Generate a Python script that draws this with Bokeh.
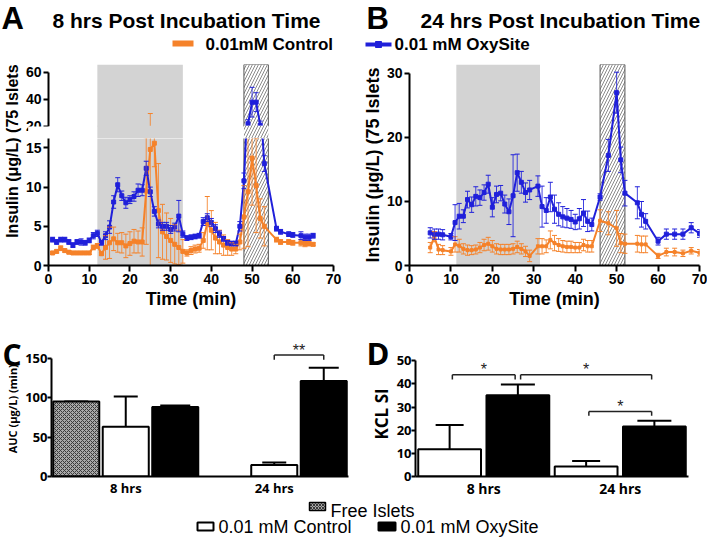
import math
from bokeh.plotting import figure
from bokeh.models import (Range1d, FactorRange, Whisker, TeeHead, ColumnDataSource, FixedTicker)
from bokeh.transform import dodge
from bokeh.layouts import column, row
from bokeh.embed import file_html
from bokeh.resources import INLINE
from bokeh.core.properties import value

# ---------------- data ----------------
x_ticks = [0, 10, 20, 30, 40, 50, 60, 70]
y_ticks_a_low = [0, 5, 10, 15]
y_ticks_a_up = [20, 40, 60]
y_ticks_b = [0, 10, 20, 30]
a_break = 20  # start of the upper segment of panel A's broken axis

# Panel A: 8 hrs post incubation
time_a = [1, 2, 3, 4, 5, 6, 7, 8, 9, 10, 11, 12, 13, 14, 15, 16, 17, 18, 19, 20,
          21, 22, 23, 24, 25, 26, 27, 28, 29, 30, 31, 32, 33, 34, 35, 36, 37, 38, 39, 40,
          41, 42, 43, 44, 45, 46, 47, 48, 49, 50, 51, 52, 53, 56, 57, 59, 60, 62, 63, 64, 65]
oxy_a = [3.3, 3.0, 3.3, 3.3, 3.0, 2.6, 3.0, 3.0, 2.9, 3.2,
         3.8, 4.1, 2.9, 3.8, 4.9, 8.1, 10.3, 8.9, 8.0, 8.4,
         8.8, 9.6, 9.6, 12.4, 9.4, 6.9, 5.3, 5.0, 5.0, 4.6,
         4.9, 6.3, 4.0, 3.5, 3.6, 3.7, 3.8, 5.6, 6.1, 5.5,
         4.7, 4.0, 3.4, 2.9, 2.8, 2.8, 5.0, 10.8, 22.0, 38.0,
         38.0, 21.0, 13.0,
         4.7, 4.3, 4.0, 3.9, 3.8, 3.6, 3.6, 3.8]
oxy_a_err = [0.3, 0.3, 0.3, 0.3, 0.3, 0.3, 0.3, 0.4, 0.3, 0.3,
             0.4, 0.4, 0.3, 0.5, 0.8, 0.8, 0.9, 0.6, 0.7, 0.5,
             0.6, 0.8, 0.7, 0.9, 0.6, 0.6, 0.5, 0.5, 0.5, 0.5,
             0.5, 2.0, 0.4, 0.3, 0.3, 0.3, 0.3, 0.5, 0.5, 0.5,
             0.5, 0.4, 0.3, 0.3, 0.3, 0.3, 0.6, 1.0, 3.0, 11.0,
             7.0, 3.0, 1.0,
             0.3, 0.3, 0.3, 0.3, 0.5, 0.4, 0.4, 0.3]
ctrl_a = [1.6, 1.8, 2.2, 1.9, 1.7, 1.6, 1.6, 1.6, 1.6, 1.6,
          2.3, 2.5, 1.5, 2.3, 2.9, 3.4, 2.9, 2.9, 2.5, 2.8,
          3.1, 3.0, 3.0, 9.5, 14.8, 15.6, 7.0, 4.3, 3.7, 3.2,
          2.7, 2.3, 1.8, 1.6, 1.9, 2.1, 2.2, 3.2, 5.4, 4.5,
          3.5, 3.0, 2.6, 2.3, 2.1, 2.1, 3.0, 6.2, 9.4, 13.7,
          10.2, 6.0, 5.0,
          3.3, 3.0, 3.0, 2.9, 2.9, 2.8, 2.8, 2.7]
ctrl_a_err = [0.2, 0.2, 0.3, 0.2, 0.2, 0.2, 0.2, 0.2, 0.2, 0.2,
              0.3, 0.3, 0.2, 1.5, 2.0, 1.5, 1.2, 1.3, 1.5, 1.5,
              1.5, 1.4, 1.8, 6.8, 14.8, 3.0, 6.0, 3.5, 3.0, 2.8,
              2.5, 2.2, 1.5, 0.4, 0.5, 0.5, 0.5, 1.0, 3.4, 2.5,
              2.0, 1.5, 1.3, 1.0, 0.8, 0.6, 1.0, 4.0, 7.0, 6.0,
              6.0, 2.5, 2.5,
              0.3, 0.3, 0.3, 0.3, 0.4, 0.4, 0.3, 0.2]
glucose_a = [12, 33]
kcl_a = [48, 54]

# Panel B: 24 hrs post incubation
time_b = [5, 6, 7, 8, 10, 11, 12, 13, 14, 15, 16, 17, 18, 19, 20, 21, 22, 23, 24, 25,
          26, 27, 28, 29, 31, 32, 33, 34, 35, 36, 37, 38, 39, 40, 41, 42, 43, 44,
          46, 48, 50, 51, 52, 55, 56, 57, 60, 62, 64, 66, 68, 70]
oxy_b = [5.1, 4.9, 4.9, 4.8, 4.5, 6.7, 7.7, 7.7, 10.3, 9.5, 10.8, 10.6, 11.4, 12.7, 9.1, 11.1,
         11.3, 9.6, 8.4, 10.9, 14.5, 13.0, 11.4, 11.8, 12.4, 9.2, 8.6, 10.7, 8.8, 8.0, 7.6,
         7.4, 7.2, 6.8, 7.3, 8.2, 6.9, 6.4, 10.7, 17.2, 27.0, 16.5, 11.3, 9.8, 8.0, 6.9,
         3.8, 4.9, 4.9, 4.9, 5.9, 5.0]
oxy_b_err = [0.8, 0.8, 0.8, 0.8, 0.5, 2.8, 2.0, 1.0, 1.3, 1.2, 1.5, 1.2, 1.2, 1.4, 1.5, 1.3,
             1.2, 1.4, 2.0, 6.4, 2.9, 1.7, 1.5, 1.5, 1.6, 3.2, 2.0, 2.3, 2.2, 1.8, 1.6,
             1.5, 1.4, 1.2, 1.6, 2.1, 1.6, 1.0, 0.5, 2.5, 3.2, 2.0, 2.0, 2.5, 2.0, 1.2,
             0.6, 0.8, 0.8, 0.8, 0.8, 0.6]
ctrl_b = [2.8, 4.5, 2.5, 2.4, 2.2, 3.3, 3.1, 2.6, 2.4, 2.4, 2.5, 2.8, 3.2, 3.4, 3.0, 2.6,
          2.5, 2.5, 2.5, 2.6, 2.9, 2.6, 2.2, 1.5, 3.0, 3.0, 3.0, 4.0, 3.5, 3.2, 3.0,
          2.9, 2.9, 2.8, 2.8, 3.2, 3.0, 3.0, 7.0, 6.6, 5.8, 3.5, 3.4, 3.4, 3.3, 3.3,
          1.5, 2.1, 2.1, 1.9, 2.3, 2.0]
ctrl_b_err = [0.8, 0.8, 0.8, 0.7, 0.6, 1.2, 1.0, 0.8, 0.8, 0.7, 0.7, 0.8, 0.9, 1.0, 0.9, 0.8,
              0.8, 0.8, 0.8, 0.8, 0.9, 0.8, 0.8, 0.9, 1.2, 1.2, 1.0, 1.4, 1.2, 1.0, 0.9,
              0.9, 0.9, 0.8, 0.8, 0.9, 0.9, 0.9, 1.7, 1.8, 2.8, 1.5, 1.5, 1.3, 1.3, 1.3,
              0.4, 0.6, 0.6, 0.5, 0.5, 0.5]
glucose_b = [11.3, 31.5]
kcl_b = [46, 52]

# Panel C: AUC
groups = ["8 hrs", "24 hrs"]
auc_ticks = [0, 50, 100, 150]
auc_free = [95, None]
auc_free_err = [0, None]
auc_ctrl = [63, 14.5]
auc_ctrl_err = [38.5, 3.3]
auc_oxy = [88, 121]
auc_oxy_err = [2, 17]
auc_sig_from = [("24 hrs", "0.01 mM Control")]
auc_sig_to = [("24 hrs", "0.01 mM OxySite")]
auc_sig_y = [154]
auc_sig_tip = [148]
auc_sig_label = ["**"]

# Panel D: KCL stimulation index
si_ticks = [0, 10, 20, 30, 40, 50]
si_ctrl = [11.8, 4.3]
si_ctrl_err = [10.5, 2.4]
si_oxy = [35.1, 21.6]
si_oxy_err = [4.7, 2.5]
si_sig_from = [("8 hrs", "0.01 mM Control"), ("8 hrs", "0.01 mM OxySite"),
               ("24 hrs", "0.01 mM Control")]
si_sig_to = [("8 hrs", "0.01 mM OxySite"), ("24 hrs", "0.01 mM OxySite"),
             ("24 hrs", "0.01 mM OxySite")]
si_sig_y = [44.0, 44.0, 28.1]
si_sig_tip = [41.9, 41.9, 26.3]
si_sig_label = ["*", "*", "*"]

# ---------------- styles ----------------
ORANGE = "#F5822A"
BLUE = "#2020DA"
GRAY = "#D3D3D3"
F1 = "Liberation Sans"
F2 = "Open Sans"
SERIES = ["Free Islets", "0.01 mM Control", "0.01 mM OxySite"]
C_OFF = {SERIES[0]: -1 / 3, SERIES[1]: 0.0, SERIES[2]: 1 / 3}
D_OFF = {SERIES[1]: -0.25, SERIES[2]: 0.25}
HATCH = dict(hatch_pattern="/", hatch_color="#8a8a8a", hatch_scale=6, hatch_weight=1)


def blank(x0, x1, y0, y1):
    f = figure(width=x1 - x0, height=y1 - y0, x_range=Range1d(x0, x1), y_range=Range1d(y1, y0),
               output_backend="svg", toolbar_location=None, min_border=0, title=None,
               x_axis_location=None, y_axis_location=None, outline_line_color=None)
    f.grid.visible = False
    return f


def put(f, x, y, txt, size, bold=True, font=F1, align="left", angle=0.0, color="black"):
    f.text(x=[x], y=[y], text=[txt], angle=angle, text_color=color,
           text_font=value(font), text_font_size=value(f"{size}px"),
           text_font_style=value("bold" if bold else "normal"),
           text_align=value(align), text_baseline=value("middle"))


def style_axis(ax, size="14px", font=F1, tick_out=5):
    ax.axis_line_width = 2
    ax.axis_line_color = "black"
    ax.major_tick_line_width = 2
    ax.major_tick_line_color = "black"
    ax.major_tick_out = tick_out
    ax.major_tick_in = 0
    ax.minor_tick_line_color = None
    ax.major_label_text_font = font
    ax.major_label_text_font_size = size
    ax.major_label_text_font_style = "bold"
    ax.major_label_text_color = "black"
    ax.major_label_standoff = 2
    ax.axis_label_text_font = font
    ax.axis_label_text_font_style = "bold"
    ax.axis_label_text_color = "black"


def shade(f, glc, kcl, bottom, top, level="underlay", border=True):
    f.quad(left=[glc[0]], right=[glc[1]], bottom=[bottom], top=[top], fill_color=GRAY,
           line_alpha=0, level=level)
    f.quad(left=[kcl[0]], right=[kcl[1]], bottom=[bottom], top=[top], fill_color="white",
           line_color="#555555", line_width=1, line_alpha=1 if border else 0, level=level,
           **HATCH)


def series(f, t, y, err, color, msize=4, cap=5):
    src = ColumnDataSource(dict(t=t, y=y, lo=[a - b for a, b in zip(y, err)],
                                hi=[a + b for a, b in zip(y, err)]))
    f.add_layout(Whisker(source=src, base="t", lower="lo", upper="hi", line_color=color,
                         line_width=1, line_alpha=0.85, level="glyph",
                         upper_head=TeeHead(size=cap, line_color=color, line_width=1),
                         lower_head=TeeHead(size=cap, line_color=color, line_width=1)))
    f.line("t", "y", source=src, line_color=color, line_width=2)
    f.scatter("t", "y", source=src, marker="square", size=msize, color=color)


def ts_fig(w, h, xr, yr, mb, xaxis=True):
    f = figure(width=w, height=h, x_range=xr, y_range=yr, output_backend="svg",
               toolbar_location=None, outline_line_color=None, title=None,
               x_axis_location="below" if xaxis else None,
               min_border_left=mb[0], min_border_right=mb[1], min_border_top=mb[2],
               min_border_bottom=mb[3])
    f.grid.visible = False
    return f


# ---------------- header ----------------
hdr = blank(0, 707, 0, 58)
put(hdr, 1, 17.5, "A", 31)
put(hdr, 52, 20, "8 hrs Post Incubation Time", 21)
hdr.quad(left=[172], right=[193], top=[40], bottom=[46], fill_color=ORANGE, line_alpha=0)
put(hdr, 205, 43.5, "0.01mM Control", 17)
hdr.segment(x0=[365], y0=[44], x1=[391], y1=[44], line_color=BLUE, line_width=4)
hdr.scatter(x=[378], y=[44], marker="square", size=6, color=BLUE)
put(hdr, 394, 43.5, "0.01 mM OxySite", 17)
put(hdr, 366, 17.5, "B", 31)
put(hdr, 420, 20, "24 hrs Post Incubation Time", 21)

# ---------------- panel A (broken axis) ----------------
labA = blank(0, 22, 58, 312)
put(labA, 12, 167.5, "Insulin (\u03bcg/L) (75 Islets", 16, align="center", angle=math.pi / 2)

xr_a = Range1d(0, 70)
yr_up = Range1d(11.1, 65.9)
yr_lo = Range1d(0, 16.2)
fa_up = ts_fig(333, 80, xr_a, yr_up, (24, 22, 6, 0), xaxis=False)
fa_lo = ts_fig(333, 174, xr_a, yr_lo, (24, 22, 0, 47))

shade(fa_up, glucose_a, kcl_a, yr_up.start - 10, yr_up.end)
shade(fa_lo, glucose_a, kcl_a, yr_lo.start - 10, yr_lo.end + 10)
for f in (fa_up, fa_lo):
    series(f, time_a, ctrl_a, ctrl_a_err, ORANGE, msize=4)
    series(f, time_a, oxy_a, oxy_a_err, BLUE, msize=4)
    style_axis(f.yaxis[0])

# blank out the axis-break gap at the bottom of the upper segment
fa_up.quad(left=[xr_a.start - 5], right=[xr_a.end + 5], bottom=[yr_up.start - 10],
           top=[a_break], fill_color="white", line_alpha=0, level="annotation")
shade(fa_up, glucose_a, kcl_a, yr_up.start - 10, a_break + 0.6, level="annotation", border=False)

fa_up.yaxis[0].ticker = FixedTicker(ticks=y_ticks_a_up, minor_ticks=[])
fa_up.yaxis[0].bounds = (a_break, 60)
fa_lo.yaxis[0].ticker = FixedTicker(ticks=y_ticks_a_low, minor_ticks=[])
fa_lo.xaxis[0].ticker = FixedTicker(ticks=x_ticks, minor_ticks=[])
style_axis(fa_lo.xaxis[0], tick_out=6)
fa_lo.xaxis[0].axis_label = "Time (min)"
fa_lo.xaxis[0].axis_label_text_font_size = "18px"
fa_lo.xaxis[0].axis_label_standoff = 2

colA = column(fa_up, fa_lo)

# ---------------- panel B ----------------
yr_b = Range1d(0, 31.4)
fb = ts_fig(352, 254, Range1d(0, 70), yr_b, (54, 8, 6, 47))
shade(fb, glucose_b, kcl_b, yr_b.start - 10, yr_b.end)
series(fb, time_b, ctrl_b, ctrl_b_err, ORANGE, msize=3)
series(fb, time_b, oxy_b, oxy_b_err, BLUE, msize=4)
style_axis(fb.yaxis[0])
style_axis(fb.xaxis[0], tick_out=6)
fb.yaxis[0].ticker = FixedTicker(ticks=y_ticks_b, minor_ticks=[])
fb.yaxis[0].bounds = (0, 30)
fb.yaxis[0].axis_label = "Insulin (\u03bcg/L) (75 Islets"
fb.yaxis[0].axis_label_text_font_size = "18px"
fb.yaxis[0].axis_label_standoff = 1
fb.xaxis[0].ticker = FixedTicker(ticks=x_ticks, minor_ticks=[])
fb.xaxis[0].axis_label = "Time (min)"
fb.xaxis[0].axis_label_text_font_size = "18px"
fb.xaxis[0].axis_label_standoff = 2

top_row = row(labA, colA, fb)


# ---------------- bar panels ----------------
def bar_fig(w, h, ymax, mb):
    f = figure(width=w, height=h,
               x_range=FactorRange(*groups, factor_padding=0, range_padding=0),
               y_range=Range1d(0, ymax), output_backend="svg", toolbar_location=None,
               outline_line_color=None, title=None, min_border_left=mb[0],
               min_border_right=mb[1], min_border_top=mb[2], min_border_bottom=mb[3])
    f.grid.visible = False
    return f


def bars(f, off, width, tops, errs, fill, cap, hatch=None):
    xs, ts, hs = [], [], []
    for g, t, e in zip(groups, tops, errs):
        if t is None:
            continue
        xs.append(g)
        ts.append(t)
        hs.append(t + (e or 0))
    src = ColumnDataSource(dict(x=xs, top=ts, hi=hs))
    kw = {}
    if hatch:
        kw = dict(hatch_pattern=hatch, hatch_color="#3a3a3a", hatch_scale=4, hatch_weight=1)
    xd = dodge("x", off, range=f.x_range)
    f.vbar(x=xd, top="top", width=width, source=src, fill_color=fill, line_color="black",
           line_width=2, **kw)
    f.add_layout(Whisker(source=src, base=xd, lower="top", upper="hi", line_color="black",
                         line_width=2, lower_head=None,
                         upper_head=TeeHead(size=cap, line_color="black", line_width=2)))


def brackets(f, offs, frm, to, y, tip, labels, size, gap):
    gi = {g: i for i, g in enumerate(groups)}
    x0, x1, xm = [], [], []
    for (g0, s0), (g1, s1) in zip(frm, to):
        p0 = gi[g0] + offs[s0]
        p1 = gi[g1] + offs[s1]
        x0.append((g0, offs[s0] + gap))
        x1.append((g1, offs[s1] - gap))
        xm.append((g0, offs[s0] + (p1 - p0) / 2))
    src = ColumnDataSource(dict(x0=x0, x1=x1, xm=xm, y=y, tip=tip, lab=labels))
    kw = dict(source=src, line_color="#222222", line_width=1.5)
    f.segment(x0="x0", y0="y", x1="x1", y1="y", **kw)
    f.segment(x0="x0", y0="y", x1="x0", y1="tip", **kw)
    f.segment(x0="x1", y0="y", x1="x1", y1="tip", **kw)
    f.text(x="xm", y="y", text="lab", source=src, y_offset=-5, text_color="#222222",
           text_font=value(F1), text_font_size=value(f"{size}px"),
           text_align=value("center"), text_baseline=value("middle"))


def cat_axes(f, grp_size, yticks, ybound):
    ax = f.xaxis[0]
    ax.axis_line_width = 2
    ax.axis_line_color = "black"
    ax.major_tick_line_color = None
    ax.major_tick_out = 0
    ax.minor_tick_line_color = None
    ax.major_label_text_font = F2
    ax.major_label_text_font_size = grp_size
    ax.major_label_text_font_style = "bold"
    ax.major_label_text_color = "black"
    ax.major_label_standoff = 2
    ay = f.yaxis[0]
    style_axis(ay, size="13px", font=F2, tick_out=4)
    ay.major_label_standoff = 0
    ay.ticker = FixedTicker(ticks=yticks, minor_ticks=[])
    ay.bounds = ybound


# panel C with its letter / axis title column
leftC = blank(0, 22, 312, 500)
put(leftC, 2, 336, "C", 30, font=F2)
put(leftC, 12, 409, "AUC (\u03bcg/L) (min)", 11, font=F2, align="center", angle=math.pi / 2)
fc = bar_fig(333, 188, 177.5, (25, 7, 24, 22))
bars(fc, C_OFF[SERIES[0]], 0.31, auc_free, auc_free_err, "#a8a8a8", 24, hatch="x")
bars(fc, C_OFF[SERIES[1]], 0.31, auc_ctrl, auc_ctrl_err, "white", 24)
bars(fc, C_OFF[SERIES[2]], 0.31, auc_oxy, auc_oxy_err, "black", 30)
brackets(fc, C_OFF, auc_sig_from, auc_sig_to, auc_sig_y, auc_sig_tip, auc_sig_label, 16, 0.0)
cat_axes(fc, "13px", auc_ticks, (0, 150))

# panel D with its letter / axis title column
leftD = blank(355, 393, 312, 500)
put(leftD, 366, 334, "D", 31, font=F2)
put(leftD, 381, 416, "KCL SI", 17, font=F2, align="center", angle=math.pi / 2)
fd = bar_fig(314, 188, 60.5, (20, 19, 24, 22))
bars(fd, D_OFF[SERIES[1]], 0.46, si_ctrl, si_ctrl_err, "white", 28)
bars(fd, D_OFF[SERIES[2]], 0.46, si_oxy, si_oxy_err, "black", 34)
brackets(fd, D_OFF, si_sig_from, si_sig_to, si_sig_y, si_sig_tip, si_sig_label, 16, 0.02)
cat_axes(fd, "14px", si_ticks, (0, 50))

bottom_row = row(leftC, fc, leftD, fd)

# ---------------- footer legend ----------------
ftr = blank(0, 707, 500, 537)
ftr.quad(left=[309], right=[325], top=[502], bottom=[510], fill_color="#a8a8a8",
         hatch_pattern="x", hatch_color="#3a3a3a", hatch_scale=3, hatch_weight=1,
         line_color="black", line_width=1.5)
put(ftr, 330, 510.3, SERIES[0], 18, bold=False)
ftr.quad(left=[197], right=[213], top=[522], bottom=[530], fill_color="white",
         line_color="black", line_width=2)
put(ftr, 218, 526.9, SERIES[1], 18, bold=False)
ftr.quad(left=[378], right=[395], top=[522], bottom=[530], fill_color="black",
         line_color="black", line_width=2)
put(ftr, 400, 526.9, SERIES[2], 18, bold=False)

page = column(hdr, top_row, bottom_row, ftr)
open("out.html", "w").write(file_html(page, INLINE))
